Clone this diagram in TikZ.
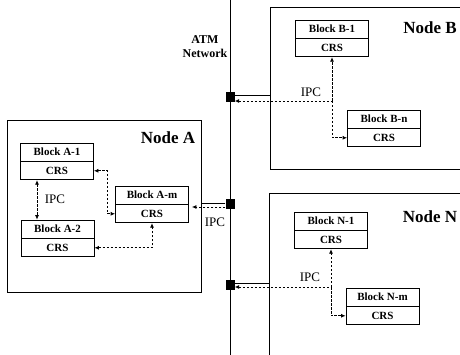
\documentclass[tikz,border=0pt]{standalone}
\usepackage{fontspec}
\setmainfont{Liberation Serif}
\usetikzlibrary{arrows.meta}
\begin{document}
\begin{tikzpicture}[x=1pt,y=-1pt,
  blk/.style={draw, line width=0.8pt, minimum width=73pt, minimum height=18pt, inner sep=0pt, font=\bfseries\fontsize{11}{12}\selectfont},
  nodebox/.style={draw, line width=0.8pt, inner sep=0pt, anchor=north west},
  ipc/.style={line width=0.8pt, dash pattern=on 2.5pt off 1.5pt, >={Latex[length=4.5pt,width=4pt]}},
  solidln/.style={line width=0.8pt},
  junc/.style={fill=black, minimum width=9pt, minimum height=10pt, inner sep=0pt},
  title/.style={font=\bfseries\fontsize{17}{18}\selectfont, inner sep=0pt},
  lbl/.style={font=\fontsize{13}{14}\selectfont, inner sep=0pt},
]
\useasboundingbox (0,0) rectangle (460,355);

% node boxes
\node[nodebox, minimum width=194pt, minimum height=172pt] (nA) at (7,120) {};
\node[nodebox, minimum width=200pt, minimum height=162pt] (nB) at (270,7) {};
\node[nodebox, minimum width=200pt, minimum height=200pt] (nN) at (269,193) {};

\node[title] (ttA) at (168,138) {Node A};
\node[title] (ttB) at (430,28) {Node B};
\node[title] (ttN) at (430,217) {Node N};

% ATM network
\coordinate (atmtop) at (230,0);
\coordinate (atmbot) at (230,355);
\draw[solidln] (atmtop) -- (atmbot);
\node[font=\bfseries\fontsize{12}{13.5}\selectfont, align=center, inner sep=0pt] (atm) at (205,46.5) {ATM\\Network};

\node[junc] (sqB) at (230,97) {};
\node[junc] (sqA) at (230,204) {};
\node[junc] (sqN) at (230,285) {};

% blocks
\node[blk] (a1) at (57,152) {Block A-1};
\node[blk, anchor=north] (a1c) at (a1.south) {CRS};
\node[blk] (a2) at (57.5,229) {Block A-2};
\node[blk, anchor=north] (a2c) at (a2.south) {CRS};
\node[blk] (am) at (152,195) {Block A-m};
\node[blk, anchor=north] (amc) at (am.south) {CRS};

\node[blk] (b1) at (332,29) {Block B-1};
\node[blk, anchor=north] (b1c) at (b1.south) {CRS};
\node[blk] (bn) at (384,119) {Block B-n};
\node[blk, anchor=north] (bnc) at (bn.south) {CRS};

\node[blk] (n1) at (331,221) {Block N-1};
\node[blk, anchor=north] (n1c) at (n1.south) {CRS};
\node[blk] (nm) at (382.5,297) {Block N-m};
\node[blk, anchor=north] (nmc) at (nm.south) {CRS};

% IPC labels
\node[lbl] (ipcA) at (55,199) {IPC};
\node[lbl] (ipcJ) at (215,222) {IPC};
\node[lbl] (ipcB) at (311,92) {IPC};
\node[lbl] (ipcN) at (310,277) {IPC};

% Node A connections
\coordinate (vA1) at ([xshift=-20pt]a1c.south);
\draw[ipc,<->] (vA1) -- (vA1 |- a2.north);
\draw[ipc,<->] (a1c.east) -- ++(13,0) |- (amc.west);
\draw[ipc,<->] (a2c.east) -| (amc.south);
\coordinate (sA) at ([yshift=1pt]sqA.west);
\coordinate (dA) at ([yshift=-3pt]sqA.west);
\draw[solidln] (sA) -- (sA -| nA.east);
\draw[ipc,->,shorten >=3pt] (dA) -- (dA -| amc.east);

% Node B connections
\coordinate (sB) at ([yshift=2pt]sqB.east);
\coordinate (dB) at ([yshift=-4pt]sqB.east);
\draw[solidln] (sB) -- (sB -| nB.west);
\coordinate (tB) at (dB -| b1c.south);
\draw[ipc,<-] (dB) -- (tB);
\draw[ipc,->] (tB) -- (b1c.south);
\draw[ipc,->] (tB) |- (bnc.west);

% Node N connections
\coordinate (sN) at ([yshift=2pt]sqN.east);
\coordinate (dN) at ([yshift=-2pt]sqN.east);
\draw[solidln] (sN) -- (sN -| nN.west);
\coordinate (tN) at (dN -| n1c.south);
\draw[ipc,<-] (dN) -- (tN);
\draw[ipc,->] (tN) -- (n1c.south);
\draw[ipc,->] (tN) |- (nmc.west);
\end{tikzpicture}
\end{document}
